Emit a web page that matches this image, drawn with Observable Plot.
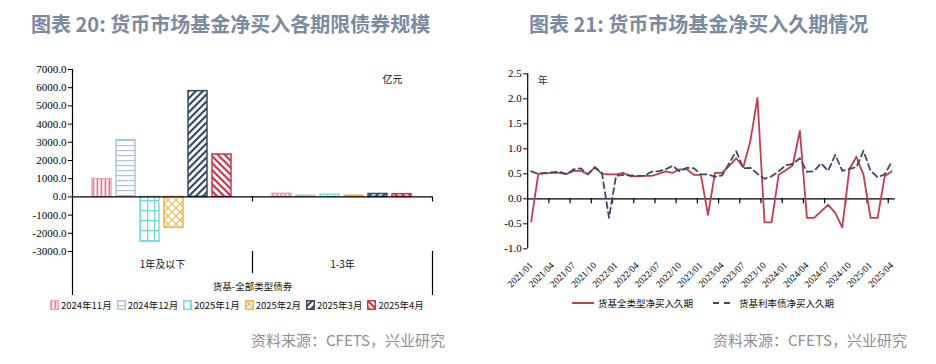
<!DOCTYPE html>
<html><head><meta charset="utf-8">
<script src="https://cdn.jsdelivr.net/npm/d3@7"></script>
<script src="https://cdn.jsdelivr.net/npm/@observablehq/plot@0.6"></script>
<style>
body{margin:0;background:#fff;}
#root{position:relative;width:936px;height:364px;overflow:hidden;font-family:"Noto Sans CJK SC",sans-serif;background:#fff;}
.abs{position:absolute;}
.title{font-size:20px;font-weight:700;color:#7b8aa1;line-height:20px;white-space:nowrap;}
.src{font-size:15px;color:#8f8f8f;line-height:18px;white-space:nowrap;}
.leg{display:flex;align-items:center;font-size:9.5px;color:#111;line-height:12px;white-space:nowrap;}
.leg .it{display:flex;align-items:center;margin-right:5px;}
.leg svg{display:block;}
.serifax text{font-family:"Liberation Serif","Times New Roman",serif;}
</style></head><body>
<div id="root">
<svg width="0" height="0" style="position:absolute"><defs>
<pattern id="bp0" patternUnits="userSpaceOnUse" width="4" height="4"><rect width="4" height="4" fill="#fff"/><rect x="0.5" width="1.8" height="4" fill="#ec7b91"/></pattern>
<pattern id="bp1" patternUnits="userSpaceOnUse" width="5" height="5"><rect width="5" height="5" fill="#fff"/><rect y="0" width="5" height="1.2" fill="#a9c4de"/></pattern>
<pattern id="bp2" patternUnits="userSpaceOnUse" width="7" height="10"><rect width="7" height="10" fill="#fff"/><rect x="0" width="1.3" height="10" fill="#6fdad2"/><rect y="0" width="7" height="1.3" fill="#6fdad2"/></pattern>
<pattern id="bp3" patternUnits="userSpaceOnUse" width="8" height="8"><rect width="8" height="8" fill="#fff"/><path d="M0,0L8,8M8,0L0,8" stroke="#f0b44f" stroke-width="1.1"/></pattern>
<pattern id="bp4" patternUnits="userSpaceOnUse" width="7" height="7"><rect width="7" height="7" fill="#fff"/><path d="M-1,1L1,-1M0,7L7,0M6,8L8,6" stroke="#3c4a6a" stroke-width="2.2"/></pattern>
<pattern id="bp5" patternUnits="userSpaceOnUse" width="7" height="7"><rect width="7" height="7" fill="#fff"/><path d="M-1,6L1,8M0,0L7,7M6,-1L8,1" stroke="#c93a4c" stroke-width="2.2"/></pattern>
</defs></svg>
<div class="abs title" style="left:31px;top:14px">图表 20: 货币市场基金净买入各期限债券规模</div>
<div class="abs title" style="left:529px;top:14px">图表 21: 货币市场基金净买入久期情况</div>
<div id="barA" class="abs" style="left:0;top:0;width:468px;height:300px"></div>
<div id="barB" class="abs" style="left:0;top:0;width:468px;height:300px"></div>
<div id="lineC" class="abs" style="left:468px;top:0;width:468px;height:300px"></div>
<div id="barLeg" class="abs leg" style="left:50px;top:299px"></div>
<div id="lineLeg" class="abs leg" style="left:572px;top:297px"></div>
<div class="abs src" style="right:491px;top:331px">资料来源：CFETS，兴业研究</div>
<div class="abs src" style="right:29px;top:331px">资料来源：CFETS，兴业研究</div>
</div>
<script>
// ---------- data: bar chart ----------
const barGroups = ["1年及以下", "1-3年"];
const barMonths = ["2024年11月", "2024年12月", "2025年1月", "2025年2月", "2025年3月", "2025年4月"];
const barUnder1Y = [980, 3120, -2470, -1700, 5810, 2330];
const bar1to3Y = [170, 60, 120, 70, 160, 150];
const barYTicks = [-3000, -2000, -1000, 0, 1000, 2000, 3000, 4000, 5000, 6000, 7000];
const barUnit = "亿元";
const barAxisTitle = "货基-全部类型债券";

// ---------- data: line chart ----------
const lineMonths = [
  "2021/01","2021/02","2021/03","2021/04","2021/05","2021/06","2021/07","2021/08","2021/09","2021/10","2021/11","2021/12",
  "2022/01","2022/02","2022/03","2022/04","2022/05","2022/06","2022/07","2022/08","2022/09","2022/10","2022/11","2022/12",
  "2023/01","2023/02","2023/03","2023/04","2023/05","2023/06","2023/07","2023/08","2023/09","2023/10","2023/11","2023/12",
  "2024/01","2024/02","2024/03","2024/04","2024/05","2024/06","2024/07","2024/08","2024/09","2024/10","2024/11","2024/12",
  "2025/01","2025/02","2025/03","2025/04"];
const allTypeDur = [
  -0.45, 0.50, 0.51, 0.52, 0.52, 0.50, 0.56, 0.56, 0.49, 0.63, 0.50, 0.49,
  0.49, 0.52, 0.45, 0.45, 0.46, 0.46, 0.50, 0.55, 0.52, 0.59, 0.59, 0.48,
  0.48, -0.32, 0.52, 0.52, 0.66, 0.81, 0.63, 1.16, 2.02, -0.47, -0.47, 0.48,
  0.57, 0.67, 1.36, -0.38, -0.38, -0.25, -0.12, -0.28, -0.57, 0.59, 0.84, 0.48,
  -0.38, -0.38, 0.45, 0.55];
const rateBondDur = [
  0.55, 0.50, 0.52, 0.53, 0.54, 0.49, 0.59, 0.61, 0.49, 0.63, 0.52, -0.38,
  0.46, 0.48, 0.47, 0.46, 0.46, 0.54, 0.55, 0.59, 0.66, 0.55, 0.62, 0.61,
  0.49, 0.49, 0.44, 0.47, 0.71, 0.95, 0.61, 0.62, 0.50, 0.40, 0.45, 0.55,
  0.67, 0.70, 0.81, 0.54, 0.55, 0.71, 0.56, 0.88, 0.56, 0.60, 0.63, 0.96,
  0.56, 0.43, 0.49, 0.74];
const lineXLabels = ["2021/01","2021/04","2021/07","2021/10","2022/01","2022/04","2022/07","2022/10",
  "2023/01","2023/04","2023/07","2023/10","2024/01","2024/04","2024/07","2024/10","2025/01","2025/04"];
const lineYTicks = [-1, -0.5, 0, 0.5, 1, 1.5, 2, 2.5];
const lineSeries = ["货基全类型净买入久期", "货基利率债净买入久期"];
const lineUnit = "年";

// ---------- styles ----------
const barFills = ["url(#bp0)", "url(#bp1)", "url(#bp2)", "url(#bp3)", "url(#bp4)", "url(#bp5)"];
const barStrokes = ["#f3a2b1", "#a9c6e0", "#7fdfd7", "#f2b24a", "#3a4868", "#c8384b"];
const redC = "#c43d4f", navyC = "#3b4a6b";
const serif = "'Liberation Serif', 'Times New Roman', serif";
const cjk = "'Noto Sans CJK SC', sans-serif";

// ---------- bar chart: bars ----------
const barData = [];
barMonths.forEach((m, i) => {
  barData.push({group: barGroups[0], month: m, value: barUnder1Y[i]});
  barData.push({group: barGroups[1], month: m, value: bar1to3Y[i]});
});
const dimsA = {width: 468, height: 300, marginLeft: 72, marginRight: 36, marginTop: 69, marginBottom: 49};
const plotA = Plot.plot({
  ...dimsA,
  style: {background: "transparent"},
  fx: {domain: barGroups, padding: 0, axis: null},
  x: {domain: barMonths, paddingInner: 0.19, paddingOuter: 0.845, axis: null},
  y: {domain: [barYTicks[0], barYTicks[barYTicks.length - 1]], axis: null},
  marks: barMonths.map((m, i) => Plot.barY(barData.filter(d => d.month === m), {
    fx: "group", x: "month", y: "value", fill: barFills[i], stroke: barStrokes[i], strokeWidth: 1.5
  }))
});
document.getElementById("barA").appendChild(plotA);

// ---------- bar chart: axes & category structure ----------
const gIdx = barGroups.map((g, i) => i);
const plotB = Plot.plot({
  ...dimsA,
  style: {background: "transparent", fontFamily: cjk},
  x: {domain: [0, barGroups.length], axis: null},
  y: {domain: [barYTicks[0], barYTicks[barYTicks.length - 1]]},
  marks: [
    Plot.axisY({ticks: barYTicks, tickFormat: d => d.toFixed(1), tickSize: 4, tickPadding: 2, fontSize: 11, fontFamily: serif, stroke: "#000", fill: "#000"}),
    Plot.ruleX([0], {stroke: "#000", strokeWidth: 1.2, insetBottom: -44}),
    Plot.ruleY([0], {stroke: "#000", strokeWidth: 1.3}),
    Plot.ruleX(gIdx.map(i => i + 1), {y1: 0, y2: 0, insetBottom: -5, stroke: "#000", strokeWidth: 1.2}),
    Plot.ruleX(gIdx.slice(1), {y1: barYTicks[0], y2: barYTicks[0], insetBottom: -22, stroke: "#000", strokeWidth: 1.2}),
    Plot.ruleX([barGroups.length], {y1: barYTicks[0], y2: barYTicks[0], insetBottom: -44, stroke: "#000", strokeWidth: 1.2}),
    Plot.text(barGroups, {x: (d, i) => i + 0.5, y: barYTicks[0], dy: 13, fontSize: 10, fill: "#111"}),
    Plot.text([barAxisTitle], {x: barGroups.length / 2, y: barYTicks[0], dy: 35, fontSize: 9.5, fill: "#111"}),
    Plot.text([barUnit], {frameAnchor: "top-right", textAnchor: "middle", lineAnchor: "middle", dx: -40, dy: 10, fontSize: 10, fill: "#111"})
  ]
});
document.getElementById("barB").appendChild(plotB);

// ---------- line chart ----------
const labelIdx = lineXLabels.map(l => lineMonths.indexOf(l));
const boundaryTicks = labelIdx.slice(1).map(i => i - 0.5);
const plotC = Plot.plot({
  width: 468, height: 300, marginLeft: 59.2, marginRight: 41.2, marginTop: 73.3, marginBottom: 51.7,
  style: {background: "transparent", fontFamily: cjk},
  x: {domain: [-0.5, lineMonths.length - 0.5]},
  y: {domain: [lineYTicks[0], lineYTicks[lineYTicks.length - 1]]},
  marks: [
    Plot.ruleX([-0.5], {stroke: "#000", strokeWidth: 1.2}),
    Plot.axisY({ticks: lineYTicks, tickFormat: d => d.toFixed(1), tickSize: 4, tickPadding: 2, fontSize: 11, fontFamily: serif, stroke: "#000", fill: "#000"}),
    Plot.axisX({ticks: labelIdx, tickFormat: i => lineMonths[i], tickRotate: -45, tickSize: 0, tickPadding: 15, fontSize: 9.5, fontFamily: serif, fill: "#000"}),
    Plot.ruleY([0], {stroke: "#000", strokeWidth: 1.3}),
    Plot.ruleX(boundaryTicks, {y1: 0, y2: 0, insetBottom: -5, stroke: "#000", strokeWidth: 1.2}),
    Plot.lineY(allTypeDur, {stroke: redC, strokeWidth: 1.8}),
    Plot.lineY(rateBondDur, {stroke: navyC, strokeWidth: 1.8, strokeDasharray: "6,4"}),
    Plot.text([lineUnit], {frameAnchor: "top-left", textAnchor: "middle", lineAnchor: "middle", dx: 15, dy: 7, fontSize: 10, fill: "#333"})
  ]
});
document.getElementById("lineC").appendChild(plotC);

// make numeric axis labels serif (Times-like), as in the original
[plotB, plotC].forEach(svg => {
  svg.querySelectorAll("g[aria-label$='tick label']").forEach(g => {
    g.classList.add("serifax");
    g.style.fontFamily = serif;
  });
});

// ---------- legends ----------
const barLeg = document.getElementById("barLeg");
barMonths.forEach((m, i) => {
  const it = document.createElement("div");
  it.className = "it";
  it.innerHTML = `<svg width="9" height="10"><rect x="0.75" y="0.75" width="7.5" height="8.5" fill="${barFills[i]}" stroke="${barStrokes[i]}" stroke-width="1.5"/></svg><span style="margin-left:2px">${m}</span>`;
  barLeg.appendChild(it);
});
const lineLeg = document.getElementById("lineLeg");
lineLeg.innerHTML =
  `<div class="it" style="margin-right:20px"><svg width="22" height="10"><line x1="0" x2="22" y1="5" y2="5" stroke="${redC}" stroke-width="2"/></svg><span style="margin-left:4px">${lineSeries[0]}</span></div>` +
  `<div class="it"><svg width="17" height="10"><line x1="0" x2="17" y1="5" y2="5" stroke="${navyC}" stroke-width="2" stroke-dasharray="6,5"/></svg><span style="margin-left:9px">${lineSeries[1]}</span></div>`;
</script>
</body></html>
